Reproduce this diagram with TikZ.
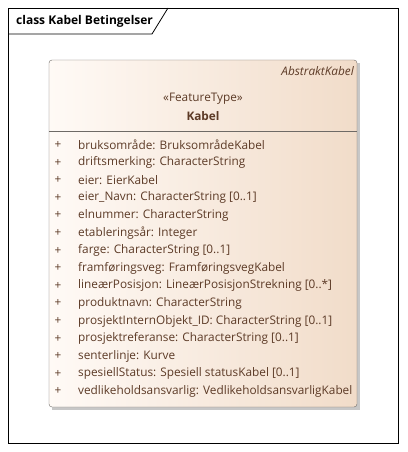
\documentclass[tikz,border=0pt]{standalone}
\usepackage{fontspec}
\setmainfont{Open Sans}
\usepackage{tikz}
\usetikzlibrary{positioning}

\definecolor{classtext}{HTML}{5C3A26}
\definecolor{classedge}{HTML}{6E6A66}
\definecolor{classlight}{HTML}{FFFAF6}
\definecolor{classdark}{HTML}{F1DCC9}

\begin{document}
\begin{tikzpicture}[x=1pt, y=-1pt,
    attr/.style = {anchor=west, inner sep=0pt, text=classtext, font=\fontsize{11.8}{13}\selectfont},
    plus/.style = {anchor=center, inner sep=0pt, text=classtext, font=\fontsize{11.8}{13}\selectfont}]
    \useasboundingbox (0,0) rectangle (407,452);
    % Frame
    \draw[thick] (8,8) rectangle (398,443);
    \draw[thick] (8,34) -- (152,34) -- (168,8);
    \node[anchor=west, inner sep=0pt, font=\fontsize{12}{14}\selectfont\bfseries] (title) at (16,21) {class Kabel Betingelser};
    % Class box
    \fill[black!22] (52,63) rectangle (360,410);
    \shade[left color=classlight, right color=classdark, draw=classedge, rounded corners=3pt] (49,60) rectangle (357,407);
    \draw[classedge] (49,131) -- (357,131);
    \node[anchor=east, inner sep=0pt, text=classtext, font=\fontsize{11.8}{13}\selectfont\itshape] (parent) at (354,71) {AbstraktKabel};
    \node[inner sep=0pt, text=classtext, font=\fontsize{11.8}{13}\selectfont] (stereo) at (203,99) {«FeatureType»};
    \node[inner sep=0pt, text=classtext, font=\fontsize{11.8}{13}\selectfont\bfseries] (name) at (203,116) {Kabel};
    % Attributes
    \foreach \txt [count=\i] in {
        bruksområde: BruksområdeKabel,
        driftsmerking: CharacterString,
        eier: EierKabel,
        eier\_Navn: CharacterString [0..1],
        elnummer: CharacterString,
        etableringsår: Integer,
        farge: CharacterString [0..1],
        framføringsveg: FramføringsvegKabel,
        lineærPosisjon: LineærPosisjonStrekning [0..*],
        produktnavn: CharacterString,
        prosjektInternObjekt\_ID: CharacterString [0..1],
        prosjektreferanse: CharacterString [0..1],
        senterlinje: Kurve,
        spesiellStatus: Spesiell statusKabel [0..1],
        vedlikeholdsansvarlig: VedlikeholdsansvarligKabel} {
        \node[plus] (plus\i) at (58,127.4+17.6*\i) {+};
        \node[attr] (attr\i) at (78,127.4+17.6*\i) {\txt};
    }
\end{tikzpicture}
\end{document}
